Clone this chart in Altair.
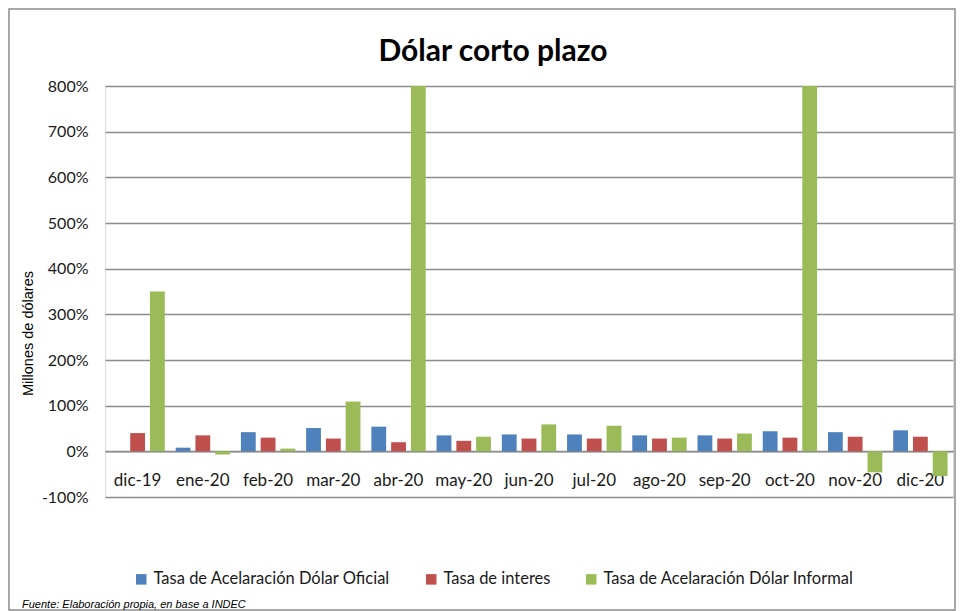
import altair as alt
import pandas as pd

categories = ["dic-19", "ene-20", "feb-20", "mar-20", "abr-20", "may-20", "jun-20",
              "jul-20", "ago-20", "sep-20", "oct-20", "nov-20", "dic-20"]
series_names = ["Tasa de Acelaración Dólar Oficial", "Tasa de interes",
                "Tasa de Acelaración Dólar Informal"]
oficial = [None, 8, 42, 51, 54, 35, 37, 37, 35, 35, 44, 42, 46]
interes = [40, 35, 30, 28, 20, 23, 28, 28, 28, 28, 30, 32, 32]
informal = [350, -7, 6, 109, 800, 32, 59, 56, 30, 39, 800, -46, -54]
colors = ["#4F81BD", "#C0504D", "#9BBB59"]
y_ticks = [-100, 0, 100, 200, 300, 400, 500, 600, 700, 800]

rows = []
for name, vals in zip(series_names, [oficial, interes, informal]):
    for c, v in zip(categories, vals):
        if v is not None:
            rows.append({"mes": c, "serie": name, "valor": v})
df = pd.DataFrame(rows)

W, H = 848, 411
FONT = "Lato"

bars = alt.Chart(df).mark_bar(clip=True).encode(
    x=alt.X("mes:N", sort=categories,
            scale=alt.Scale(paddingInner=0, paddingOuter=0),
            axis=alt.Axis(title=None, orient="bottom", offset=-H / 9, grid=False,
                          domainColor="#8c8c8c", domainWidth=1.5, ticks=False,
                          labelAngle=0, labelFontSize=17, labelFont=FONT,
                          labelColor="#1a1a1a", labelPadding=21)),
    xOffset=alt.XOffset("serie:N", sort=series_names,
                        scale=alt.Scale(paddingInner=0.25, paddingOuter=0.275)),
    y=alt.Y("valor:Q",
            scale=alt.Scale(domain=[-100, 800], nice=False, zero=False),
            axis=alt.Axis(title="Millones de dólares", values=y_ticks,
                          labelExpr="datum.value + '%'", domain=False, ticks=False,
                          labelFontSize=16, labelFont=FONT, labelColor="#1a1a1a",
                          labelPadding=17, gridColor="#8c8c8c", gridWidth=1.5,
                          titleFont="Liberation Sans", titleFontSize=14.5,
                          titleFontWeight="normal", titleColor="#000000",
                          titleAngle=-90, titleX=-77, titleY=247,
                          titleAlign="center", titleBaseline="middle")),
    color=alt.Color("serie:N", sort=series_names,
                    scale=alt.Scale(domain=series_names, range=colors),
                    legend=alt.Legend(title=None, orient="none", direction="horizontal",
                                      legendX=28, legendY=485, symbolType="square",
                                      symbolSize=110, symbolStrokeWidth=0,
                                      labelFontSize=16.5, labelFont=FONT, labelLimit=0,
                                      labelColor="#1a1a1a", columnPadding=32,
                                      labelOffset=4)),
)

title = alt.Chart(pd.DataFrame({"t": ["Dólar corto plazo"]})).mark_text(
    font=FONT, fontSize=30, fontWeight="bold", color="#000000",
    align="center", baseline="middle"
).encode(text="t:N", x=alt.value(388), y=alt.value(-34))

footer = alt.Chart(pd.DataFrame({"t": ["Fuente: Elaboración propia, en base a INDEC"]})).mark_text(
    font="Liberation Sans", fontSize=11, fontStyle="italic", color="#000000",
    align="left", baseline="middle"
).encode(text="t:N", x=alt.value(-83), y=alt.value(519))

border = alt.Chart(pd.DataFrame({"a": [0]})).mark_rect(
    fillOpacity=0, stroke="#8c8c8c", strokeWidth=1.5
).encode(x=alt.value(-96), x2=alt.value(W + 2), y=alt.value(-77), y2=alt.value(524))

chart = alt.layer(border, bars, title, footer).properties(
    width=W, height=H, padding=0
).configure_view(stroke=None).configure(background="white")

chart.save("out.html", embed_options={"renderer": "svg", "actions": False})
